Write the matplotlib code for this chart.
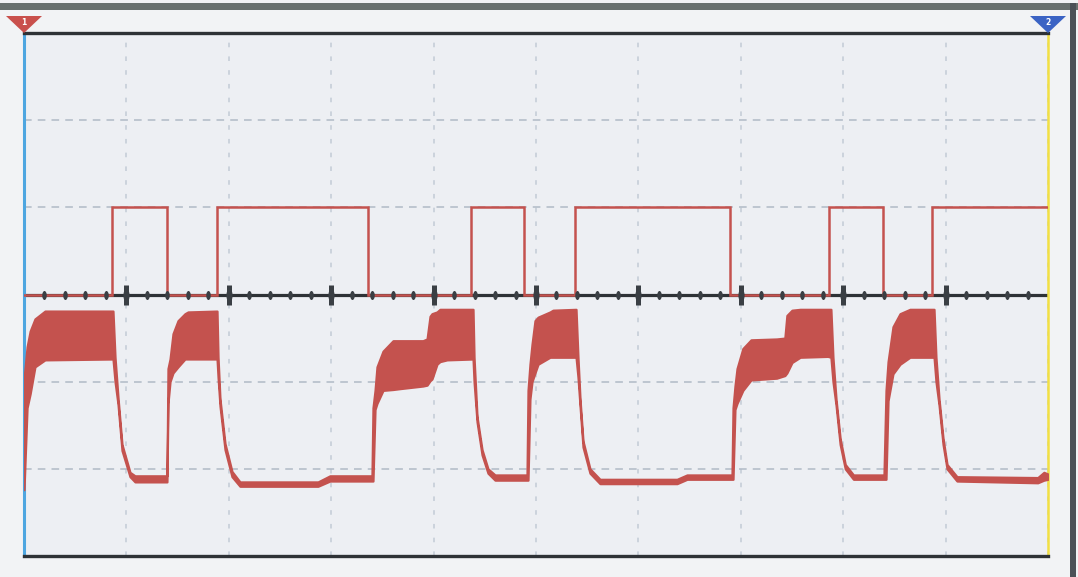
import numpy as np
import matplotlib
matplotlib.use("Agg")
import matplotlib.pyplot as plt
from matplotlib.patches import Polygon, Rectangle
from matplotlib.path import Path
from matplotlib.transforms import Affine2D

# ---- screen layout (divisions) ----
X_DIVS = 10
Y_DIVS = 6

# ---- channel 1: logic signal (time in div, level in div) ----
logic_edges = [0.0, 0.859, 1.392, 1.885, 3.364, 4.365, 4.883, 5.381, 6.890, 7.861, 8.389, 8.867, 10.0]
logic_levels = [0, 1, 0, 1, 0, 1, 0, 1, 0, 1, 0, 1, 1]

# ---- channel 2: analog signal, drawn as an envelope band (upper / lower) ----
analog_t = [
    0.000, 0.030, 0.060, 0.107, 0.205, 0.869,
    0.889, 0.918, 0.957, 1.035, 1.084, 1.396,
    1.406, 1.426, 1.455, 1.504, 1.572, 1.602, 1.885,
    1.895, 1.914, 1.963, 2.031, 2.109, 2.871, 2.988, 3.398,
    3.408, 3.428, 3.447, 3.506, 3.604, 3.672, 3.896, 3.936, 3.965, 3.984, 4.033, 4.062, 4.131, 4.385,
    4.395, 4.424, 4.473, 4.531, 4.600, 4.912,
    4.922, 4.941, 4.961, 4.990, 5.020, 5.137, 5.166, 5.391,
    5.410, 5.430, 5.459, 5.527, 5.625, 6.377, 6.475, 6.914,
    6.924, 6.943, 6.963, 7.020, 7.100, 7.350, 7.430, 7.450, 7.500, 7.580, 7.850, 7.880,
    7.900, 7.930, 7.970, 8.020, 8.100, 8.398,
    8.418, 8.438, 8.486, 8.555, 8.652, 8.887,
    8.906, 8.936, 8.975, 9.014, 9.111, 9.900, 9.960, 10.000,
]
analog_upper = [
    -0.97, -0.60, -0.42, -0.28, -0.19, -0.19,
    -0.72, -1.18, -1.72, -2.04, -2.08, -2.08,
    -0.85, -0.74, -0.45, -0.30, -0.22, -0.20, -0.19,
    -0.72, -1.20, -1.71, -2.03, -2.15, -2.15, -2.08, -2.08,
    -1.30, -1.10, -0.83, -0.65, -0.53, -0.53, -0.53, -0.51, -0.25, -0.22, -0.20, -0.17, -0.17, -0.17,
    -0.72, -1.40, -1.78, -2.00, -2.07, -2.07,
    -1.10, -0.80, -0.57, -0.30, -0.26, -0.20, -0.18, -0.17,
    -0.72, -1.20, -1.68, -2.00, -2.12, -2.12, -2.07, -2.07,
    -1.30, -1.05, -0.85, -0.62, -0.52, -0.51, -0.50, -0.24, -0.18, -0.17, -0.17, -0.17,
    -0.72, -1.20, -1.65, -1.95, -2.07, -2.07,
    -1.10, -0.77, -0.37, -0.22, -0.17, -0.17,
    -0.72, -1.20, -1.65, -1.95, -2.09, -2.10, -2.04, -2.06,
]
analog_lower = [
    -2.24, -1.30, -1.14, -0.83, -0.75, -0.74,
    -1.00, -1.26, -1.79, -2.09, -2.15, -2.15,
    -1.25, -1.00, -0.90, -0.83, -0.74, -0.74, -0.74,
    -0.95, -1.28, -1.78, -2.09, -2.20, -2.20, -2.14, -2.14,
    -2.14, -1.32, -1.25, -1.10, -1.09, -1.08, -1.05, -1.04, -0.99, -0.97, -0.80, -0.77, -0.75, -0.74,
    -1.00, -1.46, -1.84, -2.05, -2.13, -2.13,
    -2.13, -1.20, -1.00, -0.90, -0.80, -0.72, -0.72, -0.72,
    -0.95, -1.28, -1.75, -2.05, -2.17, -2.17, -2.12, -2.12,
    -2.12, -1.32, -1.25, -1.10, -0.98, -0.96, -0.93, -0.90, -0.78, -0.72, -0.71, -0.72,
    -1.00, -1.27, -1.72, -2.00, -2.12, -2.12,
    -2.12, -1.22, -0.91, -0.80, -0.72, -0.72,
    -1.00, -1.27, -1.72, -2.00, -2.14, -2.16, -2.13, -2.12,
]

# ---- colours ----
TRACE_RED = "#c4524e"
AXIS_DARK = "#2e3236"
TICK_DARK = "#3a3f44"
GRID_H = "#b0bac6"
GRID_V = "#c2cbd6"
SCREEN_BG = "#edeff3"
FRAME_BG = "#f2f3f5"

fig = plt.figure(figsize=(10.78, 5.77), dpi=100, facecolor=FRAME_BG)
ax = fig.add_axes([24 / 1078, 21 / 577, 1024 / 1078, 523 / 577])
ax.set_facecolor(SCREEN_BG)
ax.set_xlim(0, X_DIVS)
ax.set_ylim(-Y_DIVS / 2, Y_DIVS / 2)

# graticule
ax.set_xticks(np.arange(0, X_DIVS + 1))
ax.set_yticks(np.arange(-Y_DIVS // 2, Y_DIVS // 2 + 1))
ax.tick_params(left=False, bottom=False, labelleft=False, labelbottom=False)
ax.xaxis.grid(True, color=GRID_V, lw=1.1, linestyle=(0, (3, 6)))
ax.yaxis.grid(True, color=GRID_H, lw=1.1, linestyle=(0, (5, 4)))
ax.set_axisbelow(True)

# frame edges: channel colours on the sides
for side, col, w in [("top", AXIS_DARK, 2.4), ("bottom", AXIS_DARK, 2.4),
                     ("left", "#4ea6e0", 2.2), ("right", "#f2e043", 1.8)]:
    ax.spines[side].set_color(col)
    ax.spines[side].set_linewidth(w)

# centre axis
ax.axhline(0, color=AXIS_DARK, lw=2.3, zorder=2)

# logic trace
ax.step(logic_edges, logic_levels, where="post", color=TRACE_RED, lw=1.8, zorder=3,
        solid_joinstyle="miter")

# centre-axis ticks: small rounded blobs, taller at each division
blob = Path.unit_circle().transformed(Affine2D().scale(0.5, 1.0))
fine = np.round(np.arange(0.2, X_DIVS, 0.2), 2)
minor = fine[np.abs(fine - np.round(fine)) > 1e-6]
major = np.arange(1, X_DIVS)
ax.plot(minor, np.zeros_like(minor), ls="none", marker=blob, ms=6.5,
        mec="none", mfc=TICK_DARK, zorder=4)
ax.plot(major, np.zeros_like(major), ls="none", marker="|", ms=14, mew=3.6,
        color=TICK_DARK, solid_capstyle="round", zorder=4)
ax.plot(major, np.zeros_like(major), ls="none", marker=blob, ms=9,
        mec="none", mfc=TICK_DARK, zorder=4)

# analog trace band
ax.fill_between(analog_t, analog_lower, analog_upper, color=TRACE_RED,
                edgecolor=TRACE_RED, lw=1.6, zorder=3)

# channel markers above the frame corners
dx, dy = 18 / 1024, 17 / 523
for x0, col, label in [(0.0, "#c9504c", "1"), (1.0, "#3b63c4", "2")]:
    tri = Polygon([(x0, 1.0), (x0 - dx, 1.0 + dy), (x0 + dx, 1.0 + dy)], closed=True,
                  transform=ax.transAxes, clip_on=False, facecolor=col, edgecolor="none",
                  zorder=6)
    ax.add_patch(tri)
    ax.text(x0, 1.0 + dy * 0.62, label, transform=ax.transAxes, ha="center", va="center",
            fontsize=5.5, color="white", fontweight="bold", zorder=7)

# outer bezel strips
fig.patches.append(Rectangle((0, 1 - 10 / 577), 1, 7 / 577, transform=fig.transFigure,
                             facecolor="#69716f", edgecolor="none", zorder=0))
fig.patches.append(Rectangle((1070 / 1078, 0), 6 / 1078, 1 - 3 / 577, transform=fig.transFigure,
                             facecolor="#4c5157", edgecolor="none", zorder=0))

fig.savefig("out.png", dpi=100, facecolor=fig.get_facecolor())
